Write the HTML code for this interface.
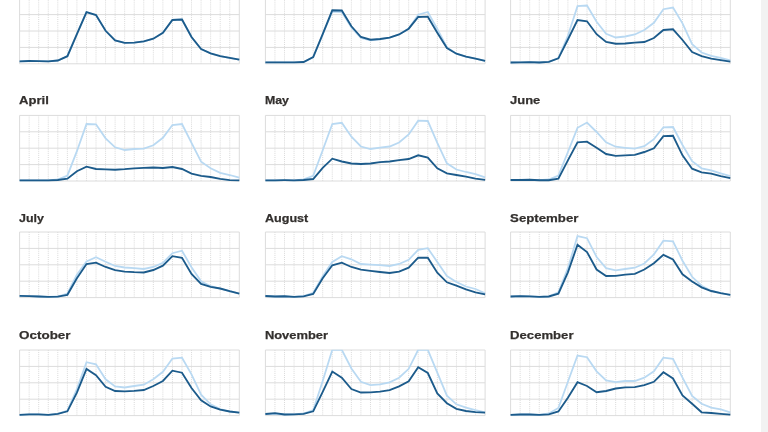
<!DOCTYPE html>
<html lang="en">
<head>
<meta charset="utf-8">
<title>Ridership by hour, month by month</title>
<style>
html,body{margin:0;padding:0;background:#fff;}
body{width:768px;height:432px;overflow:hidden;position:relative;font-family:"Liberation Sans",sans-serif;}
.track{position:absolute;right:0;top:0;width:7px;height:432px;background:#f2f2f2;}
svg{position:absolute;left:0;top:0;display:block;}
.lbl{font-family:"Liberation Sans",sans-serif;font-weight:700;font-size:11.8px;letter-spacing:0px;fill:#33302e;stroke:#33302e;stroke-width:0.25px;}
.g{stroke:#dcdcdc;stroke-width:1;fill:none;shape-rendering:auto;}
.v{stroke:#d9d9d9;stroke-width:1;fill:none;stroke-dasharray:1 1.08;}
.l{stroke:#b9d9f2;stroke-width:1.8;fill:none;stroke-linejoin:miter;}
.d{stroke:#1c5b8b;stroke-width:1.85;fill:none;stroke-linejoin:miter;}
</style>
</head>
<body>
<svg width="768" height="432" viewBox="0 0 768 432">

<g id="january">
<clipPath id="c0"><rect x="17.6" y="-2.1" width="223.7" height="68.6"/></clipPath>
<text class="lbl" x="19.1" y="-13.6" textLength="52.0" lengthAdjust="spacingAndGlyphs">January</text>
<path class="v" d="M29.15 -1.80V63.80M38.70 -1.80V63.80M48.26 -1.80V63.80M57.81 -1.80V63.80M67.36 -1.80V63.80M76.91 -1.80V63.80M86.47 -1.80V63.80M96.02 -1.80V63.80M105.57 -1.80V63.80M115.12 -1.80V63.80M124.67 -1.80V63.80M134.23 -1.80V63.80M143.78 -1.80V63.80M153.33 -1.80V63.80M162.88 -1.80V63.80M172.43 -1.80V63.80M181.99 -1.80V63.80M191.54 -1.80V63.80M201.09 -1.80V63.80M210.64 -1.80V63.80M220.20 -1.80V63.80M229.75 -1.80V63.80"/>
<path class="g" d="M19.60 -1.80H239.30M19.60 14.60H239.30M19.60 31.00H239.30M19.60 47.40H239.30M19.60 63.80H239.30M19.60 -1.80V63.80M239.30 -1.80V63.80"/>
<polyline class="l" clip-path="url(#c0)" points="19.6,61.3 29.2,61.0 38.7,61.2 48.3,61.3 57.8,60.5 67.4,56.2 76.9,34.2 86.5,12.2 96.0,15.0 105.6,30.8 115.1,40.5 124.7,42.8 134.2,42.6 143.8,41.3 153.3,38.7 162.9,32.8 172.4,20.0 182.0,19.5 191.5,37.0 201.1,49.0 210.6,53.3 220.2,56.2 229.7,57.8 239.3,59.7"/>
<polyline class="d" clip-path="url(#c0)" points="19.6,61.3 29.2,61.0 38.7,61.2 48.3,61.3 57.8,60.5 67.4,56.2 76.9,34.2 86.5,12.2 96.0,15.0 105.6,30.8 115.1,40.5 124.7,42.8 134.2,42.6 143.8,41.3 153.3,38.7 162.9,32.8 172.4,20.0 182.0,19.5 191.5,37.0 201.1,49.0 210.6,53.3 220.2,56.2 229.7,57.8 239.3,59.7"/>
</g>
<g id="february">
<clipPath id="c1"><rect x="263.4" y="-2.1" width="223.7" height="68.6"/></clipPath>
<text class="lbl" x="264.9" y="-13.6" textLength="56.0" lengthAdjust="spacingAndGlyphs">February</text>
<path class="v" d="M274.95 -1.80V63.80M284.50 -1.80V63.80M294.06 -1.80V63.80M303.61 -1.80V63.80M313.16 -1.80V63.80M322.71 -1.80V63.80M332.27 -1.80V63.80M341.82 -1.80V63.80M351.37 -1.80V63.80M360.92 -1.80V63.80M370.47 -1.80V63.80M380.03 -1.80V63.80M389.58 -1.80V63.80M399.13 -1.80V63.80M408.68 -1.80V63.80M418.23 -1.80V63.80M427.79 -1.80V63.80M437.34 -1.80V63.80M446.89 -1.80V63.80M456.44 -1.80V63.80M466.00 -1.80V63.80M475.55 -1.80V63.80"/>
<path class="g" d="M265.40 -1.80H485.10M265.40 14.60H485.10M265.40 31.00H485.10M265.40 47.40H485.10M265.40 63.80H485.10M265.40 -1.80V63.80M485.10 -1.80V63.80"/>
<polyline class="l" clip-path="url(#c1)" points="265.4,62.3 275.0,62.3 284.5,62.3 294.1,62.3 303.6,62.0 313.2,57.2 322.7,34.5 332.3,11.5 341.8,12.0 351.4,27.5 360.9,38.0 370.5,40.3 380.0,39.3 389.6,37.7 399.1,34.5 408.7,28.5 418.2,14.7 427.8,12.0 437.3,29.0 446.9,47.2 456.4,53.7 466.0,56.7 475.5,58.7 485.1,60.8"/>
<polyline class="d" clip-path="url(#c1)" points="265.4,62.3 275.0,62.3 284.5,62.3 294.1,62.3 303.6,62.0 313.2,57.2 322.7,34.2 332.3,10.3 341.8,10.5 351.4,26.3 360.9,37.0 370.5,39.7 380.0,39.0 389.6,37.7 399.1,34.5 408.7,28.7 418.2,17.0 427.8,16.7 437.3,32.8 446.9,48.0 456.4,53.7 466.0,56.7 475.5,58.7 485.1,60.8"/>
</g>
<g id="march">
<clipPath id="c2"><rect x="508.6" y="-2.1" width="223.7" height="68.6"/></clipPath>
<text class="lbl" x="510.1" y="-13.6" textLength="38.0" lengthAdjust="spacingAndGlyphs">March</text>
<path class="v" d="M520.15 -1.80V63.80M529.70 -1.80V63.80M539.26 -1.80V63.80M548.81 -1.80V63.80M558.36 -1.80V63.80M567.91 -1.80V63.80M577.47 -1.80V63.80M587.02 -1.80V63.80M596.57 -1.80V63.80M606.12 -1.80V63.80M615.67 -1.80V63.80M625.23 -1.80V63.80M634.78 -1.80V63.80M644.33 -1.80V63.80M653.88 -1.80V63.80M663.43 -1.80V63.80M672.99 -1.80V63.80M682.54 -1.80V63.80M692.09 -1.80V63.80M701.64 -1.80V63.80M711.20 -1.80V63.80M720.75 -1.80V63.80"/>
<path class="g" d="M510.60 -1.80H730.30M510.60 14.60H730.30M510.60 31.00H730.30M510.60 47.40H730.30M510.60 63.80H730.30M510.60 -1.80V63.80M730.30 -1.80V63.80"/>
<polyline class="l" clip-path="url(#c2)" points="510.6,62.5 520.2,62.3 529.7,62.2 539.3,62.5 548.8,61.8 558.4,58.0 567.9,35.8 577.5,6.2 587.0,5.5 596.6,21.7 606.1,33.8 615.7,37.5 625.2,36.5 634.8,34.5 644.3,30.0 653.9,22.8 663.4,9.2 673.0,7.5 682.5,23.3 692.1,44.2 701.6,52.5 711.2,55.8 720.7,57.8 730.3,60.3"/>
<polyline class="d" clip-path="url(#c2)" points="510.6,62.5 520.2,62.3 529.7,62.2 539.3,62.5 548.8,61.8 558.4,58.3 567.9,39.5 577.5,20.0 587.0,21.3 596.6,34.2 606.1,42.0 615.7,43.7 625.2,43.5 634.8,42.7 644.3,42.0 653.9,38.0 663.4,30.0 673.0,29.3 682.5,40.0 692.1,52.0 701.6,56.2 711.2,58.7 720.7,60.2 730.3,61.7"/>
</g>
<g id="april">
<clipPath id="c3"><rect x="17.6" y="115.1" width="223.7" height="68.6"/></clipPath>
<text class="lbl" x="19.1" y="103.6" textLength="29.8" lengthAdjust="spacingAndGlyphs">April</text>
<path class="v" d="M29.15 115.40V181.00M38.70 115.40V181.00M48.26 115.40V181.00M57.81 115.40V181.00M67.36 115.40V181.00M76.91 115.40V181.00M86.47 115.40V181.00M96.02 115.40V181.00M105.57 115.40V181.00M115.12 115.40V181.00M124.67 115.40V181.00M134.23 115.40V181.00M143.78 115.40V181.00M153.33 115.40V181.00M162.88 115.40V181.00M172.43 115.40V181.00M181.99 115.40V181.00M191.54 115.40V181.00M201.09 115.40V181.00M210.64 115.40V181.00M220.20 115.40V181.00M229.75 115.40V181.00"/>
<path class="g" d="M19.60 115.40H239.30M19.60 131.80H239.30M19.60 148.20H239.30M19.60 164.60H239.30M19.60 181.00H239.30M19.60 115.40V181.00M239.30 115.40V181.00"/>
<polyline class="l" clip-path="url(#c3)" points="19.6,180.3 29.2,180.3 38.7,180.3 48.3,180.3 57.8,179.5 67.4,175.7 76.9,151.2 86.5,124.0 96.0,124.3 105.6,138.3 115.1,147.3 124.7,150.0 134.2,149.0 143.8,148.7 153.3,145.3 162.9,137.8 172.4,125.0 182.0,124.0 191.5,142.8 201.1,161.7 210.6,168.3 220.2,172.8 229.7,175.0 239.3,177.7"/>
<polyline class="d" clip-path="url(#c3)" points="19.6,180.3 29.2,180.3 38.7,180.3 48.3,180.3 57.8,180.0 67.4,178.7 76.9,171.2 86.5,166.7 96.0,169.0 105.6,169.3 115.1,169.7 124.7,169.2 134.2,168.3 143.8,167.8 153.3,167.5 162.9,168.0 172.4,167.0 182.0,169.0 191.5,173.7 201.1,175.8 210.6,177.0 220.2,178.8 229.7,180.2 239.3,180.3"/>
</g>
<g id="may">
<clipPath id="c4"><rect x="263.4" y="115.1" width="223.7" height="68.6"/></clipPath>
<text class="lbl" x="264.9" y="103.6" textLength="24.0" lengthAdjust="spacingAndGlyphs">May</text>
<path class="v" d="M274.95 115.40V181.00M284.50 115.40V181.00M294.06 115.40V181.00M303.61 115.40V181.00M313.16 115.40V181.00M322.71 115.40V181.00M332.27 115.40V181.00M341.82 115.40V181.00M351.37 115.40V181.00M360.92 115.40V181.00M370.47 115.40V181.00M380.03 115.40V181.00M389.58 115.40V181.00M399.13 115.40V181.00M408.68 115.40V181.00M418.23 115.40V181.00M427.79 115.40V181.00M437.34 115.40V181.00M446.89 115.40V181.00M456.44 115.40V181.00M466.00 115.40V181.00M475.55 115.40V181.00"/>
<path class="g" d="M265.40 115.40H485.10M265.40 131.80H485.10M265.40 148.20H485.10M265.40 164.60H485.10M265.40 181.00H485.10M265.40 115.40V181.00M485.10 115.40V181.00"/>
<polyline class="l" clip-path="url(#c4)" points="265.4,180.3 275.0,180.3 284.5,180.2 294.1,180.3 303.6,179.3 313.2,175.8 322.7,150.3 332.3,124.0 341.8,122.8 351.4,136.7 360.9,146.5 370.5,149.0 380.0,147.6 389.6,146.5 399.1,142.5 408.7,134.5 418.2,120.7 427.8,121.0 437.3,142.8 446.9,163.3 456.4,169.5 466.0,172.0 475.5,174.2 485.1,177.3"/>
<polyline class="d" clip-path="url(#c4)" points="265.4,180.3 275.0,180.3 284.5,180.2 294.1,180.3 303.6,180.0 313.2,179.0 322.7,167.8 332.3,158.7 341.8,161.5 351.4,163.5 360.9,164.0 370.5,163.5 380.0,162.1 389.6,161.5 399.1,160.2 408.7,159.0 418.2,155.3 427.8,157.7 437.3,168.3 446.9,173.3 456.4,175.0 466.0,176.7 475.5,178.7 485.1,179.8"/>
</g>
<g id="june">
<clipPath id="c5"><rect x="508.6" y="115.1" width="223.7" height="68.6"/></clipPath>
<text class="lbl" x="510.1" y="103.6" textLength="30.2" lengthAdjust="spacingAndGlyphs">June</text>
<path class="v" d="M520.15 115.40V181.00M529.70 115.40V181.00M539.26 115.40V181.00M548.81 115.40V181.00M558.36 115.40V181.00M567.91 115.40V181.00M577.47 115.40V181.00M587.02 115.40V181.00M596.57 115.40V181.00M606.12 115.40V181.00M615.67 115.40V181.00M625.23 115.40V181.00M634.78 115.40V181.00M644.33 115.40V181.00M653.88 115.40V181.00M663.43 115.40V181.00M672.99 115.40V181.00M682.54 115.40V181.00M692.09 115.40V181.00M701.64 115.40V181.00M711.20 115.40V181.00M720.75 115.40V181.00"/>
<path class="g" d="M510.60 115.40H730.30M510.60 131.80H730.30M510.60 148.20H730.30M510.60 164.60H730.30M510.60 181.00H730.30M510.60 115.40V181.00M730.30 115.40V181.00"/>
<polyline class="l" clip-path="url(#c5)" points="510.6,180.0 520.2,180.0 529.7,179.8 539.3,180.2 548.8,179.5 558.4,175.7 567.9,152.0 577.5,127.8 587.0,122.5 596.6,132.0 606.1,142.3 615.7,146.7 625.2,147.8 634.8,148.7 644.3,146.2 653.9,139.2 663.4,127.3 673.0,127.0 682.5,145.0 692.1,161.2 701.6,168.3 711.2,170.3 720.7,173.3 730.3,176.2"/>
<polyline class="d" clip-path="url(#c5)" points="510.6,180.0 520.2,180.0 529.7,179.8 539.3,180.2 548.8,180.2 558.4,178.7 567.9,160.3 577.5,142.3 587.0,141.7 596.6,147.8 606.1,154.0 615.7,155.8 625.2,155.4 634.8,154.8 644.3,152.0 653.9,148.3 663.4,136.2 673.0,135.8 682.5,155.3 692.1,168.7 701.6,172.3 711.2,173.7 720.7,176.2 730.3,178.2"/>
</g>
<g id="july">
<clipPath id="c6"><rect x="17.6" y="231.7" width="223.7" height="68.6"/></clipPath>
<text class="lbl" x="19.1" y="221.8" textLength="24.9" lengthAdjust="spacingAndGlyphs">July</text>
<path class="v" d="M29.15 232.00V297.60M38.70 232.00V297.60M48.26 232.00V297.60M57.81 232.00V297.60M67.36 232.00V297.60M76.91 232.00V297.60M86.47 232.00V297.60M96.02 232.00V297.60M105.57 232.00V297.60M115.12 232.00V297.60M124.67 232.00V297.60M134.23 232.00V297.60M143.78 232.00V297.60M153.33 232.00V297.60M162.88 232.00V297.60M172.43 232.00V297.60M181.99 232.00V297.60M191.54 232.00V297.60M201.09 232.00V297.60M210.64 232.00V297.60M220.20 232.00V297.60M229.75 232.00V297.60"/>
<path class="g" d="M19.60 232.00H239.30M19.60 248.40H239.30M19.60 264.80H239.30M19.60 281.20H239.30M19.60 297.60H239.30M19.60 232.00V297.60M239.30 232.00V297.60"/>
<polyline class="l" clip-path="url(#c6)" points="19.6,295.8 29.2,296.2 38.7,296.5 48.3,296.8 57.8,296.5 67.4,293.5 76.9,274.8 86.5,261.5 96.0,257.3 105.6,261.8 115.1,266.0 124.7,267.5 134.2,268.2 143.8,269.0 153.3,267.0 162.9,262.8 172.4,253.2 182.0,250.7 191.5,267.3 201.1,281.2 210.6,286.2 220.2,288.5 229.7,291.2 239.3,293.7"/>
<polyline class="d" clip-path="url(#c6)" points="19.6,295.8 29.2,296.2 38.7,296.5 48.3,296.8 57.8,296.7 67.4,294.8 76.9,278.2 86.5,264.0 96.0,262.7 105.6,267.0 115.1,270.2 124.7,271.6 134.2,272.2 143.8,272.5 153.3,270.0 162.9,265.7 172.4,256.2 182.0,257.8 191.5,274.0 201.1,284.0 210.6,286.8 220.2,288.5 229.7,291.2 239.3,293.7"/>
</g>
<g id="august">
<clipPath id="c7"><rect x="263.4" y="231.7" width="223.7" height="68.6"/></clipPath>
<text class="lbl" x="264.9" y="221.8" textLength="43.4" lengthAdjust="spacingAndGlyphs">August</text>
<path class="v" d="M274.95 232.00V297.60M284.50 232.00V297.60M294.06 232.00V297.60M303.61 232.00V297.60M313.16 232.00V297.60M322.71 232.00V297.60M332.27 232.00V297.60M341.82 232.00V297.60M351.37 232.00V297.60M360.92 232.00V297.60M370.47 232.00V297.60M380.03 232.00V297.60M389.58 232.00V297.60M399.13 232.00V297.60M408.68 232.00V297.60M418.23 232.00V297.60M427.79 232.00V297.60M437.34 232.00V297.60M446.89 232.00V297.60M456.44 232.00V297.60M466.00 232.00V297.60M475.55 232.00V297.60"/>
<path class="g" d="M265.40 232.00H485.10M265.40 248.40H485.10M265.40 264.80H485.10M265.40 281.20H485.10M265.40 297.60H485.10M265.40 232.00V297.60M485.10 232.00V297.60"/>
<polyline class="l" clip-path="url(#c7)" points="265.4,296.0 275.0,296.5 284.5,296.3 294.1,296.8 303.6,296.0 313.2,292.8 322.7,276.2 332.3,262.0 341.8,256.2 351.4,259.3 360.9,264.0 370.5,264.6 380.0,265.1 389.6,266.0 399.1,264.0 408.7,259.8 418.2,249.8 427.8,248.2 437.3,262.0 446.9,276.0 456.4,282.0 466.0,286.5 475.5,289.0 485.1,293.2"/>
<polyline class="d" clip-path="url(#c7)" points="265.4,296.0 275.0,296.5 284.5,296.3 294.1,296.8 303.6,296.3 313.2,294.0 322.7,278.2 332.3,265.3 341.8,262.7 351.4,267.0 360.9,269.7 370.5,270.8 380.0,272.0 389.6,273.0 399.1,271.7 408.7,267.7 418.2,257.7 427.8,257.7 437.3,272.7 446.9,282.3 456.4,285.7 466.0,289.3 475.5,292.3 485.1,294.3"/>
</g>
<g id="september">
<clipPath id="c8"><rect x="508.6" y="231.7" width="223.7" height="68.6"/></clipPath>
<text class="lbl" x="510.1" y="221.8" textLength="68.3" lengthAdjust="spacingAndGlyphs">September</text>
<path class="v" d="M520.15 232.00V297.60M529.70 232.00V297.60M539.26 232.00V297.60M548.81 232.00V297.60M558.36 232.00V297.60M567.91 232.00V297.60M577.47 232.00V297.60M587.02 232.00V297.60M596.57 232.00V297.60M606.12 232.00V297.60M615.67 232.00V297.60M625.23 232.00V297.60M634.78 232.00V297.60M644.33 232.00V297.60M653.88 232.00V297.60M663.43 232.00V297.60M672.99 232.00V297.60M682.54 232.00V297.60M692.09 232.00V297.60M701.64 232.00V297.60M711.20 232.00V297.60M720.75 232.00V297.60"/>
<path class="g" d="M510.60 232.00H730.30M510.60 248.40H730.30M510.60 264.80H730.30M510.60 281.20H730.30M510.60 297.60H730.30M510.60 232.00V297.60M730.30 232.00V297.60"/>
<polyline class="l" clip-path="url(#c8)" points="510.6,296.5 520.2,296.2 529.7,296.3 539.3,296.8 548.8,296.3 558.4,292.3 567.9,268.2 577.5,236.0 587.0,238.2 596.6,257.0 606.1,268.2 615.7,270.3 625.2,269.0 634.8,267.7 644.3,263.5 653.9,254.5 663.4,240.7 673.0,241.3 682.5,260.7 692.1,276.8 701.6,285.7 711.2,290.7 720.7,293.2 730.3,294.8"/>
<polyline class="d" clip-path="url(#c8)" points="510.6,296.5 520.2,296.2 529.7,296.3 539.3,296.8 548.8,296.5 558.4,293.7 567.9,272.3 577.5,244.8 587.0,252.0 596.6,269.5 606.1,276.0 615.7,275.8 625.2,274.6 634.8,273.8 644.3,269.5 653.9,263.2 663.4,254.8 673.0,259.5 682.5,274.3 692.1,281.5 701.6,287.3 711.2,291.0 720.7,293.2 730.3,294.8"/>
</g>
<g id="october">
<clipPath id="c9"><rect x="17.6" y="349.7" width="223.7" height="68.6"/></clipPath>
<text class="lbl" x="19.1" y="338.6" textLength="51.4" lengthAdjust="spacingAndGlyphs">October</text>
<path class="v" d="M29.15 350.00V415.60M38.70 350.00V415.60M48.26 350.00V415.60M57.81 350.00V415.60M67.36 350.00V415.60M76.91 350.00V415.60M86.47 350.00V415.60M96.02 350.00V415.60M105.57 350.00V415.60M115.12 350.00V415.60M124.67 350.00V415.60M134.23 350.00V415.60M143.78 350.00V415.60M153.33 350.00V415.60M162.88 350.00V415.60M172.43 350.00V415.60M181.99 350.00V415.60M191.54 350.00V415.60M201.09 350.00V415.60M210.64 350.00V415.60M220.20 350.00V415.60M229.75 350.00V415.60"/>
<path class="g" d="M19.60 350.00H239.30M19.60 366.40H239.30M19.60 382.80H239.30M19.60 399.20H239.30M19.60 415.60H239.30M19.60 350.00V415.60M239.30 350.00V415.60"/>
<polyline class="l" clip-path="url(#c9)" points="19.6,414.8 29.2,414.3 38.7,414.3 48.3,414.8 57.8,413.8 67.4,410.7 76.9,389.0 86.5,362.2 96.0,364.3 105.6,379.3 115.1,386.5 124.7,387.5 134.2,386.0 143.8,384.7 153.3,379.3 162.9,371.8 172.4,358.5 182.0,357.7 191.5,374.3 201.1,394.7 210.6,404.3 220.2,409.0 229.7,411.5 239.3,412.7"/>
<polyline class="d" clip-path="url(#c9)" points="19.6,414.8 29.2,414.3 38.7,414.3 48.3,414.8 57.8,413.8 67.4,411.3 76.9,392.7 86.5,369.0 96.0,375.2 105.6,386.8 115.1,391.0 124.7,391.3 134.2,390.9 143.8,390.0 153.3,386.0 162.9,381.0 172.4,370.7 182.0,372.7 191.5,388.0 201.1,400.2 210.6,406.5 220.2,409.7 229.7,411.5 239.3,412.7"/>
</g>
<g id="november">
<clipPath id="c10"><rect x="263.4" y="349.7" width="223.7" height="68.6"/></clipPath>
<text class="lbl" x="264.9" y="338.6" textLength="63.2" lengthAdjust="spacingAndGlyphs">November</text>
<path class="v" d="M274.95 350.00V415.60M284.50 350.00V415.60M294.06 350.00V415.60M303.61 350.00V415.60M313.16 350.00V415.60M322.71 350.00V415.60M332.27 350.00V415.60M341.82 350.00V415.60M351.37 350.00V415.60M360.92 350.00V415.60M370.47 350.00V415.60M380.03 350.00V415.60M389.58 350.00V415.60M399.13 350.00V415.60M408.68 350.00V415.60M418.23 350.00V415.60M427.79 350.00V415.60M437.34 350.00V415.60M446.89 350.00V415.60M456.44 350.00V415.60M466.00 350.00V415.60M475.55 350.00V415.60"/>
<path class="g" d="M265.40 350.00H485.10M265.40 366.40H485.10M265.40 382.80H485.10M265.40 399.20H485.10M265.40 415.60H485.10M265.40 350.00V415.60M485.10 350.00V415.60"/>
<polyline class="l" clip-path="url(#c10)" points="265.4,414.0 275.0,414.0 284.5,414.5 294.1,414.3 303.6,413.5 313.2,410.2 322.7,381.0 332.3,349.8 341.8,349.8 351.4,368.5 360.9,381.8 370.5,385.2 380.0,384.3 389.6,382.3 399.1,377.7 408.7,368.8 418.2,349.8 427.8,349.8 437.3,372.7 446.9,395.7 456.4,404.3 466.0,407.7 475.5,410.2 485.1,412.3"/>
<polyline class="d" clip-path="url(#c10)" points="265.4,414.0 275.0,413.2 284.5,414.5 294.1,414.3 303.6,413.8 313.2,411.3 322.7,391.8 332.3,371.5 341.8,377.7 351.4,389.0 360.9,392.5 370.5,392.3 380.0,391.7 389.6,390.2 399.1,386.3 408.7,381.3 418.2,367.3 427.8,373.0 437.3,393.5 446.9,403.2 456.4,408.8 466.0,411.0 475.5,412.2 485.1,412.7"/>
</g>
<g id="december">
<clipPath id="c11"><rect x="508.6" y="349.7" width="223.7" height="68.6"/></clipPath>
<text class="lbl" x="510.1" y="338.6" textLength="63.4" lengthAdjust="spacingAndGlyphs">December</text>
<path class="v" d="M520.15 350.00V415.60M529.70 350.00V415.60M539.26 350.00V415.60M548.81 350.00V415.60M558.36 350.00V415.60M567.91 350.00V415.60M577.47 350.00V415.60M587.02 350.00V415.60M596.57 350.00V415.60M606.12 350.00V415.60M615.67 350.00V415.60M625.23 350.00V415.60M634.78 350.00V415.60M644.33 350.00V415.60M653.88 350.00V415.60M663.43 350.00V415.60M672.99 350.00V415.60M682.54 350.00V415.60M692.09 350.00V415.60M701.64 350.00V415.60M711.20 350.00V415.60M720.75 350.00V415.60"/>
<path class="g" d="M510.60 350.00H730.30M510.60 366.40H730.30M510.60 382.80H730.30M510.60 399.20H730.30M510.60 415.60H730.30M510.60 350.00V415.60M730.30 350.00V415.60"/>
<polyline class="l" clip-path="url(#c11)" points="510.6,414.8 520.2,414.5 529.7,414.5 539.3,414.8 548.8,413.5 558.4,408.0 567.9,381.8 577.5,355.5 587.0,357.2 596.6,371.3 606.1,380.5 615.7,382.2 625.2,381.0 634.8,381.0 644.3,377.7 653.9,371.3 663.4,357.7 673.0,358.8 682.5,377.7 692.1,396.0 701.6,403.8 711.2,407.7 720.7,409.3 730.3,412.3"/>
<polyline class="d" clip-path="url(#c11)" points="510.6,414.8 520.2,414.5 529.7,414.5 539.3,414.8 548.8,414.3 558.4,411.5 567.9,397.7 577.5,382.2 587.0,386.0 596.6,392.2 606.1,391.0 615.7,388.5 625.2,387.4 634.8,387.2 644.3,385.2 653.9,381.8 663.4,372.3 673.0,378.5 682.5,395.5 692.1,403.8 701.6,412.3 711.2,413.0 720.7,413.8 730.3,414.7"/>
</g>
</svg>
<div class="track"></div>
</body>
</html>
